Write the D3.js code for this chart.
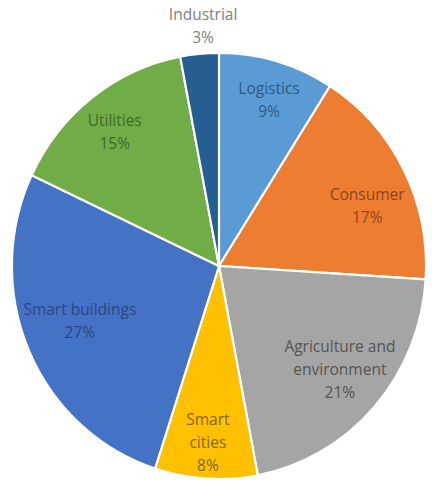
<!DOCTYPE html>
<html><head><meta charset="utf-8">
<script src="https://cdn.jsdelivr.net/npm/d3@7"></script>
<style>body{margin:0;background:#fff}svg{display:block}</style>
</head><body>
<script>
const categories = ["Logistics","Consumer","Agriculture and environment","Smart cities","Smart buildings","Utilities","Industrial"];
const values = [9,17,21,8,27,15,3];
const labelLines = [["Logistics"],["Consumer"],["Agriculture and","environment"],["Smart","cities"],["Smart buildings"],["Utilities"],["Industrial"]];
const colors = ["#5B9BD5","#ED7D31","#A5A5A5","#FFC000","#4472C4","#70AD47","#255E91"];
const textColors = ["#2E5A86","#8E4518","#555555","#86660E","#2A4787","#3D6A27","#808080"];
// label placement: angle (deg, clockwise from top) and distance in units of radius
const labelAngle = [17.2,68.4,129.8,183.7,249,321.2,356.1];
const labelDist = [0.817,0.77,0.76,0.833,0.72,0.804,1.13];

const W=432,H=483, cx=219, cy=266, R=213, sx=0.972;
const svg=d3.select("body").append("svg").attr("width",W).attr("height",H);
const g=svg.append("g").attr("transform",`translate(${cx},${cy}) scale(${sx},1)`);
const pie=d3.pie().sort(null).value(d=>d);
const arcs=pie(values);
const arc=d3.arc().innerRadius(0).outerRadius(R);
g.selectAll("path").data(arcs).join("path")
  .attr("d",arc).attr("fill",(d,i)=>colors[i])
  .attr("stroke","#fff").attr("stroke-width",2.2);
const fs=15.5, lh=23;
const lg=svg.append("g").attr("transform",`translate(${cx},${cy})`);
arcs.forEach((a,i)=>{
  const ang=labelAngle[i]*Math.PI/180;
  const x=Math.sin(ang)*R*labelDist[i]*sx, y=-Math.cos(ang)*R*labelDist[i];
  const lines=labelLines[i].concat([d3.format(".0%")(values[i]/100)]);
  const y0=y-(lines.length-1)*lh/2;
  const t=lg.append("text").attr("text-anchor","middle")
    .attr("font-family","'Open Sans', sans-serif").attr("font-size",fs)
    .attr("fill",textColors[i]);
  lines.forEach((s,k)=>t.append("tspan").attr("x",x).attr("y",y0+k*lh).attr("dy","0.35em").text(s));
});
</script>
</body></html>
